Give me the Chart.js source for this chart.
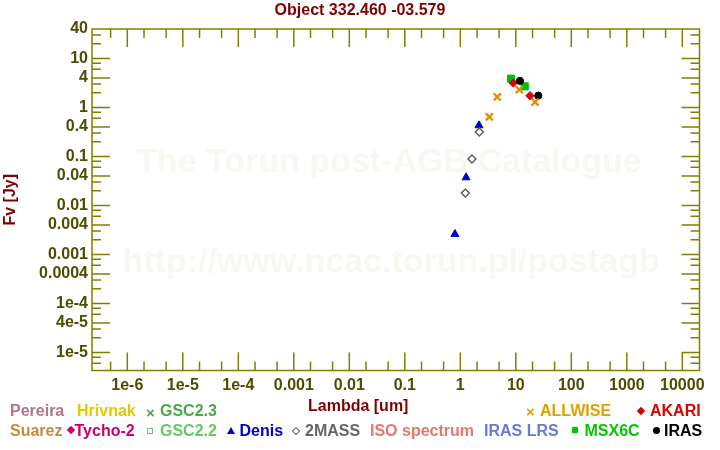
<!DOCTYPE html>
<html lang="en">
<head>
<meta charset="UTF-8">
<title>Object 332.460 -03.579</title>
<script src="https://cdn.jsdelivr.net/npm/chart.js"></script>
<style>
*{margin:0;padding:0;box-sizing:border-box;}
body{background:#fff;width:720px;height:450px;overflow:hidden;font-family:'Liberation Sans',Arial,sans-serif;font-weight:bold;}
#wrap{position:relative;width:720px;height:450px;}
#chart{position:absolute;left:0;top:0;}
.t{position:absolute;font-size:16px;line-height:16px;white-space:nowrap;}
#title{left:0;width:720px;text-align:center;top:2px;color:#800000;}
.mk{position:absolute;}
.x{position:absolute;font-size:15px;line-height:15px;}
.sq{width:6px;height:6px;}
.osq{width:6px;height:6px;border:1.5px solid #66c866;background:#fff;}
.dia{width:6px;height:6px;transform:rotate(45deg);}
.odia{width:6px;height:6px;border:1.5px solid #666;background:#fff;transform:rotate(45deg);}
.dot{width:7px;height:7px;border-radius:50%;background:#000;}
.tri{width:0;height:0;border-left:4px solid transparent;border-right:4px solid transparent;border-bottom:7px solid #0000c8;}
</style>
</head>
<body>
<div id="wrap">
    <canvas id="chart" width="720" height="450"></canvas>
    <div id="title" class="t">Object 332.460 -03.579</div>
    <div class="t" style="left:308px;top:398px;color:#800000">Lambda [um]</div>

    <!-- legend row 1 -->
    <div class="t" style="left:10px;top:402.5px;color:#b3738a">Pereira</div>
    <div class="t" style="left:77px;top:402.5px;color:#e6c800">Hrivnak</div>
    <div class="x" style="left:146px;top:404.5px;color:#4aa84a">×</div>
    <div class="t" style="left:160px;top:402.5px;color:#4aa84a">GSC2.3</div>
    <div class="x" style="left:526px;top:404px;color:#e0a000">×</div>
    <div class="t" style="left:540px;top:402.5px;color:#e0a000">ALLWISE</div>
    <div class="mk dia" style="left:637.5px;top:407.5px;background:#dd0000"></div>
    <div class="t" style="left:650px;top:402.5px;color:#dd0000">AKARI</div>

    <!-- legend row 2 -->
    <div class="t" style="left:10px;top:423px;color:#c48c3c">Suarez</div>
    <div class="mk dia" style="left:67.5px;top:427px;background:#cc0066"></div>
    <div class="t" style="left:74.5px;top:423px;color:#cc0066">Tycho-2</div>
    <div class="mk osq" style="left:147px;top:427.5px"></div>
    <div class="t" style="left:160px;top:423px;color:#66c866">GSC2.2</div>
    <div class="mk tri" style="left:226.5px;top:426.5px"></div>
    <div class="t" style="left:239.5px;top:423px;color:#0000c8">Denis</div>
    <div class="mk odia" style="left:292.5px;top:427.5px"></div>
    <div class="t" style="left:305px;top:423px;color:#666666">2MASS</div>
    <div class="t" style="left:370px;top:423px;color:#e87868">ISO spectrum</div>
    <div class="t" style="left:484px;top:423px;color:#6a78d8">IRAS LRS</div>
    <div class="mk sq" style="left:572px;top:427px;background:#00c800"></div>
    <div class="t" style="left:584.5px;top:423px;color:#00c800">MSX6C</div>
    <div class="mk dot" style="left:652.5px;top:426.5px"></div>
    <div class="t" style="left:664px;top:423px;color:#000">IRAS</div>
</div>

<script>
// photometry: wavelength [um] and flux [Jy]
const allwiseLambda = [3.33, 4.64, 11.56, 22.2];
const allwiseFlux   = [0.64, 1.64, 2.31, 1.29];
const akariLambda   = [9.0, 18.0];
const akariFlux     = [3.17, 1.74];
const irasLambda    = [11.9, 25.4];
const irasFlux      = [3.48, 1.74];
const msxLambda     = [8.2, 14.5];
const msxFlux       = [3.88, 2.7];
const denisLambda   = [0.80, 1.27, 2.17];
const denisFlux     = [0.00259, 0.0372, 0.43];
const tmassLambda   = [1.23, 1.62, 2.2];
const tmassFlux     = [0.0179, 0.0886, 0.315];

// axes
const xTickVals   = [1e-6, 1e-5, 1e-4, 1e-3, 0.01, 0.1, 1, 10, 100, 1000, 10000];
const xTickLabels = ['1e-6', '1e-5', '1e-4', '0.001', '0.01', '0.1', '1', '10', '100', '1000', '10000'];
const xMinorMult  = [2, 5];
const yTickVals   = [1e-5, 4e-5, 1e-4, 4e-4, 1e-3, 4e-3, 0.01, 0.04, 0.1, 0.4, 1, 4, 10, 40];
const yTickLabels = ['1e-5', '4e-5', '1e-4', '0.0004', '0.001', '0.004', '0.01', '0.04', '0.1', '0.4', '1', '4', '10', '40'];
const yMinorMult  = [2, 3, 6, 8];
const watermark   = ['The Torun post-AGB Catalogue', 'http://www.ncac.torun.pl/postagb'];

const olive = '#808000';
const labelColor = '#4d4d00';
const fontFam = "'Liberation Sans', Arial, sans-serif";

function pts(xs, ys){ return xs.map((v, i) => ({x: v, y: ys[i]})); }

// watermark, frame and inward ticks on all four sides
const framePlugin = {
    id: 'frame',
    beforeDatasetsDraw(chart){
        const {ctx, chartArea: a, scales: {x, y}} = chart;
        ctx.save();
        ctx.fillStyle = '#f9f7f2';
        ctx.font = 'bold 34px ' + fontFam;
        ctx.textAlign = 'center';
        ctx.textBaseline = 'alphabetic';
        ctx.fillText(watermark[0], 389, 172);
        ctx.fillText(watermark[1], 391, 272);

        ctx.strokeStyle = olive;
        ctx.lineWidth = 1.5;
        ctx.strokeRect(a.left, a.top, a.right - a.left, a.bottom - a.top);
        ctx.beginPath();
        const ty = (v, len) => {
            const p = y.getPixelForValue(v);
            if (p <= a.top + 1 || p >= a.bottom - 1) return;
            ctx.moveTo(a.left, p); ctx.lineTo(a.left + len, p);
            ctx.moveTo(a.right, p); ctx.lineTo(a.right - len, p);
        };
        const tx = (v, len) => {
            const p = x.getPixelForValue(v);
            if (p <= a.left + 1 || p >= a.right - 1) return;
            ctx.moveTo(p, a.bottom); ctx.lineTo(p, a.bottom - len);
            ctx.moveTo(p, a.top); ctx.lineTo(p, a.top + len);
        };
        yTickVals.forEach(v => ty(v, 18));
        for (let d = -7; d <= 2; d++) yMinorMult.forEach(m => ty(m * Math.pow(10, d), 9));
        xTickVals.forEach(v => tx(v, 18));
        for (let d = -8; d <= 5; d++) xMinorMult.forEach(m => tx(m * Math.pow(10, d), 9));
        ctx.stroke();
        ctx.restore();
    }
};

new Chart(document.getElementById('chart'), {
    type: 'scatter',
    data: {
        datasets: [
            {label: '2MASS', data: pts(tmassLambda, tmassFlux), pointStyle: 'rectRot', pointRadius: 4, borderColor: '#606060', backgroundColor: '#fff', borderWidth: 1.5},
            {label: 'Denis', data: pts(denisLambda, denisFlux), pointStyle: 'triangle', pointRadius: 4.6, borderColor: '#0000c8', backgroundColor: '#0000c8', borderWidth: 1},
            {label: 'ALLWISE', data: pts(allwiseLambda, allwiseFlux), pointStyle: 'crossRot', pointRadius: 5, borderColor: '#e09000', borderWidth: 2.3},
            {label: 'IRAS', data: pts(irasLambda, irasFlux), pointStyle: 'circle', pointRadius: 3.6, borderColor: '#000', backgroundColor: '#000', borderWidth: 1},
            {label: 'AKARI', data: pts(akariLambda, akariFlux), pointStyle: 'rectRot', pointRadius: 4.2, borderColor: '#dd0000', backgroundColor: '#dd0000', borderWidth: 1},
            {label: 'MSX6C', data: pts(msxLambda, msxFlux), pointStyle: 'rect', pointRadius: 5, borderColor: '#00c000', backgroundColor: '#00c000', borderWidth: 1}
        ]
    },
    options: {
        responsive: false,
        devicePixelRatio: 1,
        animation: false,
        layout: {padding: {top: 29, right: 20.5, bottom: 55.5, left: 0}},
        plugins: {legend: {display: false}, tooltip: {enabled: false}},
        scales: {
            x: {
                type: 'logarithmic',
                min: 2.31e-7,
                max: 2.04e4,
                grid: {display: false, drawTicks: false},
                border: {display: false},
                ticks: {
                    autoSkip: false, maxRotation: 0, padding: 5,
                    color: labelColor, font: {family: fontFam, weight: 'bold', size: 16},
                    callback: (v, i) => xTickLabels[i]
                },
                afterBuildTicks: s => { s.ticks = xTickVals.map(v => ({value: v})); },
                afterFit: s => { s.height = 24; }
            },
            y: {
                type: 'logarithmic',
                min: 4.27e-6,
                max: 40,
                grid: {display: false, drawTicks: false},
                border: {display: false},
                ticks: {
                    autoSkip: false, padding: 4,
                    color: labelColor, font: {family: fontFam, weight: 'bold', size: 16},
                    callback: (v, i) => yTickLabels[i]
                },
                title: {display: true, text: 'Fv [Jy]', color: '#800000', padding: {top: 1, bottom: 0}, font: {family: fontFam, weight: 'bold', size: 16}},
                afterBuildTicks: s => { s.ticks = yTickVals.map(v => ({value: v})); },
                afterFit: s => { s.width = 92; }
            }
        }
    },
    plugins: [framePlugin]
});
</script>
</body>
</html>
